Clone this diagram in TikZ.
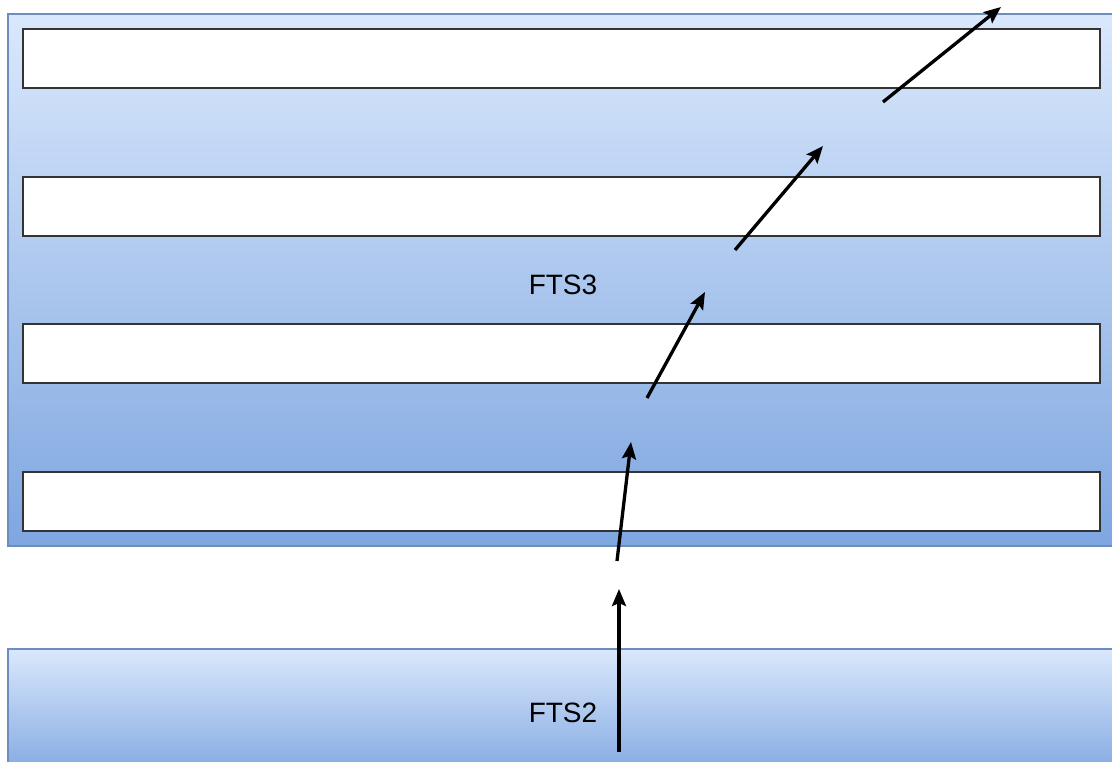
\documentclass[tikz,border=0pt]{standalone}
\usepackage{fontspec}
\setmainfont{Liberation Sans}
\usetikzlibrary{arrows.meta}
\definecolor{fillTop}{HTML}{DAE8FC}
\definecolor{fillBot}{HTML}{7EA6E0}
\definecolor{edge}{HTML}{6C8EBF}
\tikzset{
  layer/.style={draw=edge, line width=1.4pt, top color=fillTop, bottom color=fillBot},
  slot/.style={draw=black!80, line width=1.5pt, fill=white, inner sep=0pt,
               minimum width=1077pt, minimum height=59pt},
  flow/.style={line width=3.3pt, -{Stealth[length=17pt,width=14pt,inset=3pt]}},
  label/.style={font=\fontsize{28}{30}\selectfont}
}
\begin{document}
\begin{tikzpicture}[x=1pt,y=-1pt]
  \useasboundingbox (0,0) rectangle (1112,762);
  \clip (0,0) rectangle (1112,762);
  \fill[white] (0,0) rectangle (1112,762);
  % outer layers (extend past the right edge)
  \path[layer] (8,14) rectangle (1130,546);
  \path[layer] (8,649) rectangle (1130,780);
  \node[label] (fts3) at (563,285) {FTS3};
  \node[label] (fts2) at (563,713) {FTS2};
  % inner slots
  \node[slot] (s1) at (561.5,58.5) {};
  \node[slot] (s2) at (561.5,206.5) {};
  \node[slot] (s3) at (561.5,353.5) {};
  \node[slot] (s4) at (561.5,501.5) {};
  % arrow end points
  \coordinate (a0) at (619,752);
  \coordinate (a1) at (619,589);
  \coordinate (b0) at (617,561);
  \coordinate (b1) at (631,442);
  \coordinate (c0) at (647,398);
  \coordinate (c1) at (705,292);
  \coordinate (d0) at (735,250);
  \coordinate (d1) at (823,146);
  \coordinate (e0) at (883,102);
  \coordinate (e1) at (1001,7);
  \draw[flow] (a0) -- (a1);
  \draw[flow] (b0) -- (b1);
  \draw[flow] (c0) -- (c1);
  \draw[flow] (d0) -- (d1);
  \draw[flow] (e0) -- (e1);
\end{tikzpicture}
\end{document}
